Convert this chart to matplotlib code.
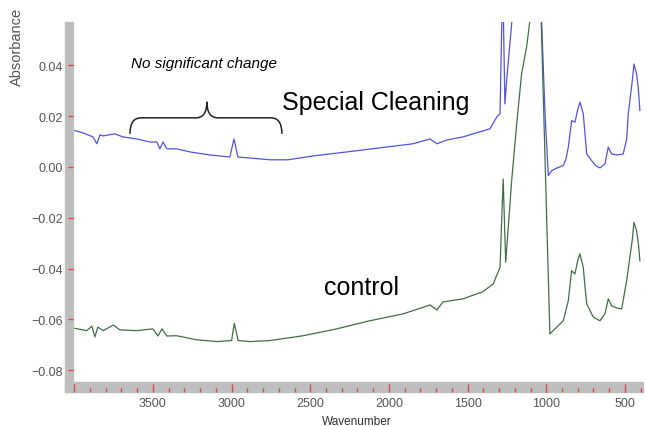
import matplotlib
matplotlib.use('Agg')
import matplotlib.pyplot as plt
from matplotlib.patches import Rectangle, PathPatch
from matplotlib.path import Path
from matplotlib.ticker import MultipleLocator, FixedLocator

# -- spectra (wavenumber, absorbance)
clean_wn = [3996, 3945, 3881, 3856, 3837, 3818, 3742, 3691, 3602, 3519, 3475, 3456,
            3436, 3411, 3347, 3265, 3138, 3011, 2985, 2960, 2883, 2756, 2642, 2483,
            2267, 2057, 1847, 1739, 1695, 1631, 1530, 1422, 1358, 1314, 1294, 1277,
            1263, 1252, 1220, 1150, 1060, 1029, 1008, 987, 966, 932, 892, 875, 860,
            839, 818, 799, 786, 765, 754, 743, 712, 684, 659, 627, 606, 585, 551,
            511, 489, 479, 452, 443, 426, 415, 405]
clean_abs = [0.0143, 0.0134, 0.0118, 0.0091, 0.0126, 0.0122, 0.0130, 0.0118, 0.0110,
             0.0098, 0.0098, 0.0071, 0.0098, 0.0071, 0.0071, 0.0059, 0.0047, 0.0039,
             0.0110, 0.0039, 0.0035, 0.0028, 0.0028, 0.0043, 0.0059, 0.0075, 0.0091,
             0.0110, 0.0091, 0.0106, 0.0118, 0.0138, 0.0150, 0.0197, 0.0209, 0.075,
             0.0248, 0.0340, 0.0563, 0.12, 0.12, 0.0563, 0.0209, -0.0034, -0.0015,
             -0.0004, 0.0005, 0.0031, 0.0078, 0.0182, 0.0176, 0.0228, 0.0255, 0.0209,
             0.0130, 0.0051, 0.0025, 0.0004, -0.0004, 0.0012, 0.0078, 0.0051, 0.0047,
             0.0051, 0.0110, 0.0209, 0.0346, 0.0405, 0.0366, 0.0307, 0.0222]

control_wn = [3996, 3921, 3888, 3869, 3850, 3816, 3752, 3710, 3604, 3500, 3468, 3443,
              3411, 3349, 3222, 3095, 3000, 2983, 2958, 2883, 2756, 2545, 2332, 2121,
              1909, 1739, 1695, 1657, 1530, 1403, 1337, 1294, 1274, 1258, 1220, 1188,
              1157, 1125, 1104, 1060, 1032, 977, 945, 892, 860, 839, 818, 799, 786,
              765, 754, 743, 701, 659, 627, 606, 585, 551, 521, 489, 452, 443, 426,
              415, 405]
control_abs = [-0.0635, -0.0644, -0.0626, -0.0669, -0.0630, -0.0644, -0.0622, -0.0641,
               -0.0644, -0.0637, -0.0665, -0.0637, -0.0665, -0.0664, -0.0680, -0.0687,
               -0.0683, -0.0615, -0.0683, -0.0687, -0.0683, -0.0664, -0.0637, -0.0605,
               -0.0578, -0.0543, -0.0563, -0.0531, -0.0519, -0.0491, -0.0460, -0.0395,
               -0.0047, -0.0375, -0.0054, 0.0169, 0.0366, 0.0472, 0.0576, 0.10, 0.057,
               -0.0657, -0.0637, -0.0605, -0.0526, -0.0408, -0.0421, -0.0365, -0.0342,
               -0.0395, -0.0470, -0.0539, -0.0591, -0.0605, -0.0578, -0.0519, -0.0546,
               -0.0555, -0.0559, -0.0447, -0.0280, -0.0218, -0.0251, -0.0300, -0.0369]

x_labels = ['', '3500', '3000', '2500', '2000', '1500', '1000', '500']
x_major = [4000, 3500, 3000, 2500, 2000, 1500, 1000, 500]

# brace over the unchanged region (wavenumber span, heights)
brace_left, brace_mid, brace_right = 3646, 3157, 2680
brace_foot, brace_bar, brace_tip = 0.0130, 0.0193, 0.0256

W, H = 647, 427
plt.rcParams['font.family'] = ['Liberation Sans', 'DejaVu Sans']

fig = plt.figure(figsize=(W / 100, H / 100), dpi=100)
ax = fig.add_axes([73 / W, 44 / H, 568 / W, 360 / H])

ax.plot(clean_wn, clean_abs, color='#5353e0', lw=0.9)
ax.plot(control_wn, control_abs, color='#426e46', lw=0.9)

ax.set_xlim(4008, 398)
ax.set_ylim(-0.0846, 0.057)

# -- gray frame bars like the instrument software
bar = '#bebebe'
ax.add_patch(Rectangle((-8 / 568, -10 / 360), 8 / 568, 1 + 10 / 360, transform=ax.transAxes,
                       color=bar, clip_on=False, zorder=0.5))
ax.add_patch(Rectangle((-8 / 568, -10 / 360), 1 + 10 / 568, 10 / 360, transform=ax.transAxes,
                       color=bar, clip_on=False, zorder=0.5))
for s in ax.spines.values():
    s.set_visible(False)
ax.spines['bottom'].set_position(('outward', 7.2))

red = '#e04545'
ax.xaxis.set_major_locator(FixedLocator(x_major))
ax.set_xticklabels(x_labels)
ax.xaxis.set_minor_locator(MultipleLocator(100))
ax.tick_params(axis='x', which='major', direction='in', length=6, width=1, color=red,
               pad=3.6, labelsize=9, labelcolor='#555555')
ax.tick_params(axis='x', which='minor', direction='in', length=3, width=1, color=red)
ax.yaxis.set_major_locator(MultipleLocator(0.02))
ax.yaxis.set_major_formatter(lambda v, p: '{:.2f}'.format(v).replace('-', '\u2212'))
ax.tick_params(axis='y', direction='out', length=3.6, width=1, color=red,
               pad=3.6, labelsize=9, labelcolor='#555555')

ax.set_xlabel('Wavenumber', fontsize=8.5, color='#333333', labelpad=4)
fig.text(17 / W, 1 - 86 / H, 'Absorbance', rotation=90, ha='center', va='bottom',
         fontsize=10.5, color='#555555')

# -- annotations
ax.text(2083, 0.0228, 'Special Cleaning', fontsize=18, ha='center', va='baseline')
ax.text(2175, -0.050, 'control', fontsize=18, ha='center', va='baseline')
ax.text(3176, 0.0394, 'No significant change', fontsize=11, style='italic',
        ha='center', va='baseline')

verts = [(brace_left, brace_foot), (brace_left, brace_bar), (brace_left - 70, brace_bar),
         (brace_mid + 70, brace_bar),
         (brace_mid, brace_bar), (brace_mid, brace_tip),
         (brace_mid, brace_bar), (brace_mid - 70, brace_bar),
         (brace_right + 70, brace_bar),
         (brace_right, brace_bar), (brace_right, brace_foot)]
codes = [Path.MOVETO, Path.CURVE3, Path.CURVE3, Path.LINETO,
         Path.CURVE3, Path.CURVE3, Path.CURVE3, Path.CURVE3,
         Path.LINETO, Path.CURVE3, Path.CURVE3]
ax.add_patch(PathPatch(Path(verts, codes), fill=False, lw=1.1, color='#222222'))

fig.savefig('out.png', dpi=100)
